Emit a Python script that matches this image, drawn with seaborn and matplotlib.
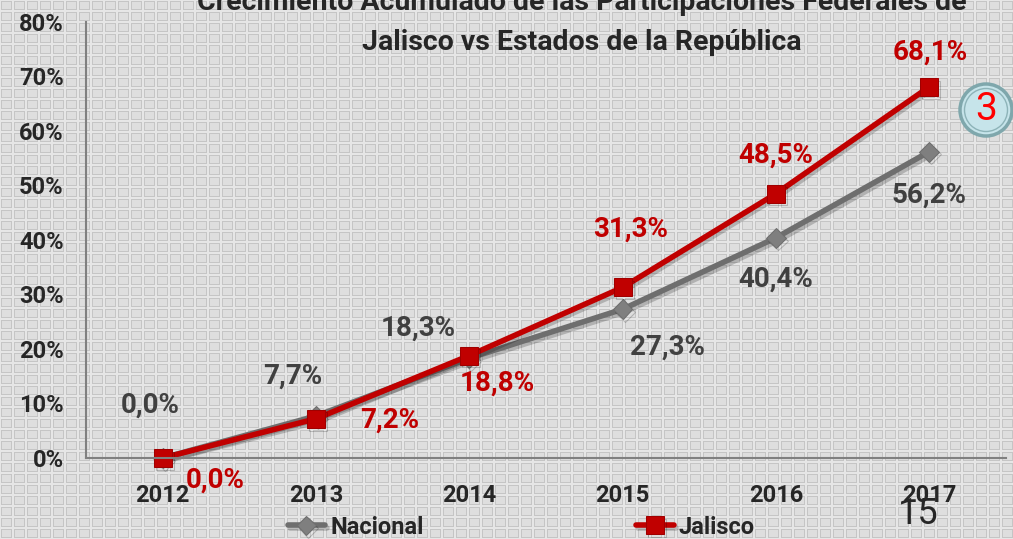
import numpy as np
import pandas as pd
import seaborn as sns
import matplotlib.pyplot as plt
import matplotlib.patheffects as pe
from matplotlib.patches import Circle

years = ["2012", "2013", "2014", "2015", "2016", "2017"]
nacional = [0.0, 7.7, 18.3, 27.3, 40.4, 56.2]
jalisco = [0.0, 7.2, 18.8, 31.3, 48.5, 68.1]
y_ticks = [0, 10, 20, 30, 40, 50, 60, 70, 80]

# label offsets in points (dx, dy)
nac_off = [(-9, 38), (-17, 29), (-37, 22), (32, -27), (0, -30), (0, -31)]
jal_off = [(38, -16), (53, -1), (20, -20), (6, 42), (0, 28), (1, 25)]

sns.set_style("white")
plt.rcParams['font.family'] = ['Roboto', 'DejaVu Sans']

df = pd.DataFrame({
    "pos": list(range(len(years))) * 2,
    "valor": nacional + jalisco,
    "serie": ["Nacional"] * len(years) + ["Jalisco"] * len(years),
})

fig = plt.figure(figsize=(10.13, 5.39), dpi=100)

# patterned grey background
H, W = 539, 1013
yy, xx = np.mgrid[0:H, 0:W]
ly, lx = yy % 11, xx % 13
bg = np.full((H, W), 0.90)
inside = (ly >= 1) & (ly <= 9) & (lx >= 1) & (lx <= 11)
edge = inside & ((ly == 1) | (ly == 9) | (lx == 1) | (lx == 11))
bg[inside] = 0.87
bg[edge] = 0.77
bax = fig.add_axes([0, 0, 1, 1], zorder=-1)
bax.imshow(bg, cmap="gray", vmin=0, vmax=1, aspect="auto", interpolation="nearest")
bax.axis("off")

ax = fig.add_axes([0.0849, 0.1503, 0.9081, 0.8089])
ax.set_facecolor("none")

shadow = [pe.SimpleLineShadow(offset=(1.5, -2), shadow_color="k", alpha=0.2), pe.Normal()]

sns.lineplot(data=df[df.serie == "Nacional"], x="pos", y="valor", ax=ax,
             color="#6E6E6E", lw=4, marker="D", markersize=10,
             markerfacecolor="#7F7F7F", markeredgecolor="#6E6E6E", label="Nacional")
sns.lineplot(data=df[df.serie == "Jalisco"], x="pos", y="valor", ax=ax,
             color="#C00000", lw=4, marker="s", markersize=13,
             markerfacecolor="#C00000", markeredgecolor="#A00000", label="Jalisco")
for ln in ax.lines:
    ln.set_clip_on(False)
    ln.set_path_effects(shadow)

for i, v in enumerate(nacional):
    ax.annotate(f"{v:.1f}%".replace(".", ","), (i, v), xytext=nac_off[i],
                textcoords="offset points", ha="center", va="center",
                fontsize=20, fontweight="bold", color="#404040")
for i, v in enumerate(jalisco):
    ax.annotate(f"{v:.1f}%".replace(".", ","), (i, v), xytext=jal_off[i],
                textcoords="offset points", ha="center", va="center",
                fontsize=20, fontweight="bold", color="#C00000")

ax.set_xlim(-0.5, 5.5)
ax.set_ylim(0, 80)
ax.set_xticks(range(len(years)))
ax.set_xticklabels(years)
ax.set_yticks(y_ticks)
ax.set_yticklabels([f"{t}%" for t in y_ticks])
ax.tick_params(axis="x", length=0, pad=19, labelsize=17)
ax.tick_params(axis="y", length=0, pad=16, labelsize=17)
for lab in ax.get_xticklabels() + ax.get_yticklabels():
    lab.set_fontweight("bold")
ax.set_xlabel("")
ax.set_ylabel("")
sns.despine(ax=ax)
for s in ["left", "bottom"]:
    ax.spines[s].set_color("#808080")
    ax.spines[s].set_linewidth(1.5)

ax.get_legend().remove()
handles, labels = ax.get_legend_handles_labels()
fig.legend(handles, labels, loc="center", bbox_to_anchor=(521 / 1013, 0.022), ncol=2,
           frameon=False, columnspacing=9.0, handlelength=1.6, handletextpad=0.2,
           prop={"size": 17, "weight": "bold"})

fig.text(0.574, 1 - 3 / 539, "Crecimiento Acumulado de las Participaciones Federales de",
         ha="center", va="center", fontsize=20.5, fontweight="bold")
fig.text(0.574, 1 - 42 / 539, "Jalisco vs Estados de la República",
         ha="center", va="center", fontsize=20.5, fontweight="bold")

fig.text(918 / 1013, 1 - 514 / 539, "15", ha="center", va="center", fontsize=26)

cx, cy = 986 / 1013, 1 - 110 / 539
fig.patches.append(Circle((986 / 100, (539 - 110) / 100), 26 / 100, transform=fig.dpi_scale_trans,
                          facecolor="#C6E4EA", edgecolor="#7FA7AC", lw=2.5))
fig.patches.append(Circle((986 / 100, (539 - 110) / 100), 21.5 / 100, transform=fig.dpi_scale_trans,
                          facecolor="none", edgecolor="#8DB3B8", lw=1))
fig.text(cx, cy, "3", ha="center", va="center", fontsize=28, color="#FF0000")

plt.savefig("out.png", dpi=100)
